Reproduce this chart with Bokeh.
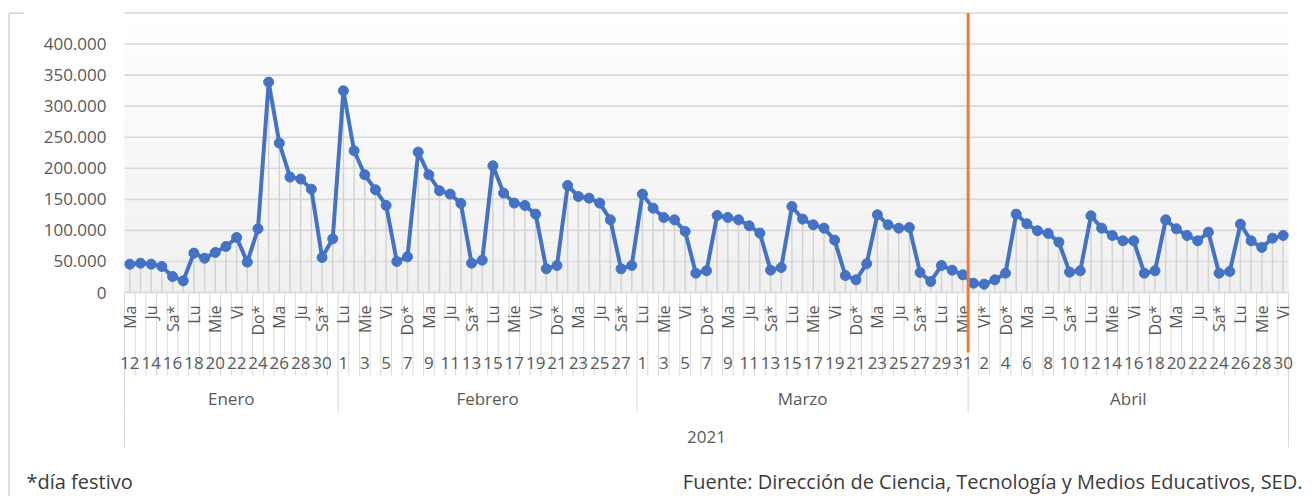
import datetime
import numpy as np
from bokeh.plotting import figure
from bokeh.models import Range1d
from bokeh.core.properties import value
from bokeh.embed import file_html
from bokeh.resources import INLINE

# ---------------- data ----------------
inicio = datetime.date(2021, 1, 12)
visitas = [
    # Enero 12-31
    45600, 47200, 45600, 41900, 25800, 18800, 63400, 55300, 64400, 74100,
    88600, 48900, 102600, 338800, 240500, 185800, 182600, 166400, 56400, 86400,
    # Febrero 1-28
    324800, 228200, 189500, 165400, 140100, 49900, 57400, 226000, 189500, 163800,
    158400, 143400, 47200, 52100, 204000, 160000, 143900, 140100, 126200, 38100,
    43500, 172300, 154600, 151900, 143900, 117000, 38100, 43500,
    # Marzo 1-31
    158400, 135800, 120800, 117000, 98300, 31100, 34900, 124000, 120800, 117000,
    107400, 95600, 36000, 40300, 138500, 118100, 109000, 103600, 84300, 27400,
    20400, 46200, 125100, 109000, 103600, 104700, 32200, 17700, 43500, 36000,
    28500,
    # Abril 1-30
    15000, 13400, 20400, 31100, 126200, 110600, 99300, 95000, 81100, 32800,
    34900, 123500, 103600, 91800, 83200, 83200, 31100, 34900, 117000, 102500,
    91800, 83200, 97200, 31100, 33800, 110100, 83200, 72500, 87500, 91800,
]
festivos = [datetime.date(2021, 3, 22), datetime.date(2021, 4, 1), datetime.date(2021, 4, 2)]
dias_semana = ["Lu", "Ma", "Mie", "Ju", "Vi", "Sa", "Do"]
meses = ["Enero", "Febrero", "Marzo", "Abril"]
anio = "2021"
y_ticks = [0, 50000, 100000, 150000, 200000, 250000, 300000, 350000, 400000]
y_labels = ["0", "50.000", "100.000", "150.000", "200.000", "250.000", "300.000", "350.000", "400.000"]
y_max = 450000
corte_fecha = datetime.date(2021, 4, 1)   # orange marker before this date
nota = "*día festivo"
fuente = "Fuente: Dirección de Ciencia, Tecnología y Medios Educativos, SED."

# ---------------- layout (page pixels) ----------------
FIG_W, FIG_H = 1316, 496
PAGE_L, PAGE_T = 0, 0
PLOT_L, PLOT_R = 124, 1288
ZERO_PX, TOP_PX = 292, 12.5
n = len(visitas)
step = (PLOT_R - PLOT_L) / n
kpx = (ZERO_PX - TOP_PX) / y_max


def X(px):
    return (px - PLOT_L) / step - 0.5


def Y(py):
    return (ZERO_PX - py) / kpx


fechas = [inicio + datetime.timedelta(days=i) for i in range(n)]
idx = list(range(n))
etiquetas_dia = []
for f in fechas:
    lab = dias_semana[f.weekday()]
    if f.weekday() >= 5 or f in festivos:
        lab += "*"
    etiquetas_dia.append(lab)
numeros = [str(f.day) for f in fechas]

p = figure(width=FIG_W, height=FIG_H,
           x_range=Range1d(X(PAGE_L), X(PAGE_L + FIG_W)),
           y_range=Range1d(Y(PAGE_T + FIG_H), Y(PAGE_T)),
           output_backend="svg", toolbar_location=None,
           x_axis_location=None, y_axis_location=None,
           min_border=0)
p.outline_line_color = None
p.xgrid.visible = False
p.ygrid.visible = False
p.background_fill_color = "white"

font = value("Open Sans")
gray_txt = "#595959"
sep = "#d9d9d9"

# gradient plot background
nb = 70
edges = np.linspace(0, y_max, nb + 1)
cols = []
for k in range(nb):
    t = 1 - (edges[k] + edges[k + 1]) / 2 / y_max
    g = int(round(255 - 16 * t))
    cols.append("#%02x%02x%02x" % (g, g, g))
p.quad(left=-0.5, right=n - 0.5, bottom=list(edges[:-1]), top=list(edges[1:] + y_max / nb * 0.05),
       fill_color=cols, line_color=None)

# horizontal gridlines
grid_vals = y_ticks + [y_max]
p.segment(x0=[-0.5] * len(grid_vals), x1=[n - 0.5] * len(grid_vals), y0=grid_vals, y1=grid_vals,
          line_color=sep, line_width=1.6)

# drop lines
p.segment(x0=idx, x1=idx, y0=[0] * n, y1=visitas, line_color="#d4d4d4", line_width=1.5)

# series
p.line(idx, visitas, line_color="#4472C4", line_width=4, line_join="round")
p.scatter(idx, visitas, size=10, fill_color="#4472C4", line_color="#4472C4")

# y tick labels
p.text(x=[X(106)] * len(y_ticks), y=y_ticks, text=y_labels, text_font=font,
       text_font_size="17px", text_color=gray_txt, text_align="right", text_baseline="middle")

# category separators
bounds = [i - 0.5 for i in range(n + 1)]
p.segment(x0=bounds, x1=bounds, y0=[0] * len(bounds), y1=[Y(375)] * len(bounds),
          line_color=sep, line_width=1)

# month groups
m_start, m_end = [], []
for i, f in enumerate(fechas):
    if i == 0 or f.month != fechas[i - 1].month:
        m_start.append(i)
    if i == n - 1 or f.month != fechas[i + 1].month:
        m_end.append(i)
m_bounds = [s - 0.5 for s in m_start] + [n - 0.5]
p.segment(x0=m_bounds, x1=m_bounds, y0=[Y(375)] * len(m_bounds), y1=[Y(412)] * len(m_bounds),
          line_color=sep, line_width=1)
outer = [-0.5, n - 0.5]
p.segment(x0=outer, x1=outer, y0=[Y(412)] * 2, y1=[Y(447)] * 2, line_color=sep, line_width=1)

# day-of-week and day-number labels (every other day)
shown = idx[::2]
p.text(x=shown, y=[Y(305)] * len(shown), text=[etiquetas_dia[i] for i in shown], angle=np.pi / 2,
       text_font=font, text_font_size="16px", text_color=gray_txt,
       text_align="right", text_baseline="middle")
p.text(x=shown, y=[Y(362)] * len(shown), text=[numeros[i] for i in shown],
       text_font=font, text_font_size="17px", text_color=gray_txt,
       text_align="center", text_baseline="middle")

# month labels
m_centers = [(a + b) / 2 for a, b in zip(m_start, m_end)]
p.text(x=m_centers, y=[Y(398)] * len(m_centers), text=meses[:len(m_centers)],
       text_font=font, text_font_size="17px", text_color=gray_txt,
       text_align="center", text_baseline="middle")

# year label
p.text(x=[(n - 1) / 2], y=[Y(436)], text=[anio], text_font=font, text_font_size="17px",
       text_color=gray_txt, text_align="center", text_baseline="middle")

# orange divider
corte = fechas.index(corte_fecha) - 0.5
p.segment(x0=[corte], x1=[corte], y0=[y_max], y1=[Y(352)], line_color="#ED7D31", line_width=3)

# chart border fragments
p.segment(x0=[X(8.5), X(8.5)], x1=[X(8.5), X(23)], y0=[Y(12.7), Y(12.7)], y1=[Y(496), Y(12.7)],
          line_color="#d0d0d0", line_width=1.5)

# footnotes
p.text(x=[X(26)], y=[Y(481)], text=[nota], text_font=font, text_font_size="20px",
       text_color="#3b3b3b", text_align="left", text_baseline="middle")
p.text(x=[X(1302)], y=[Y(481)], text=[fuente], text_font=font, text_font_size="20px",
       text_color="#3b3b3b", text_align="right", text_baseline="middle")

open("out.html", "w").write(file_html(p, INLINE))
